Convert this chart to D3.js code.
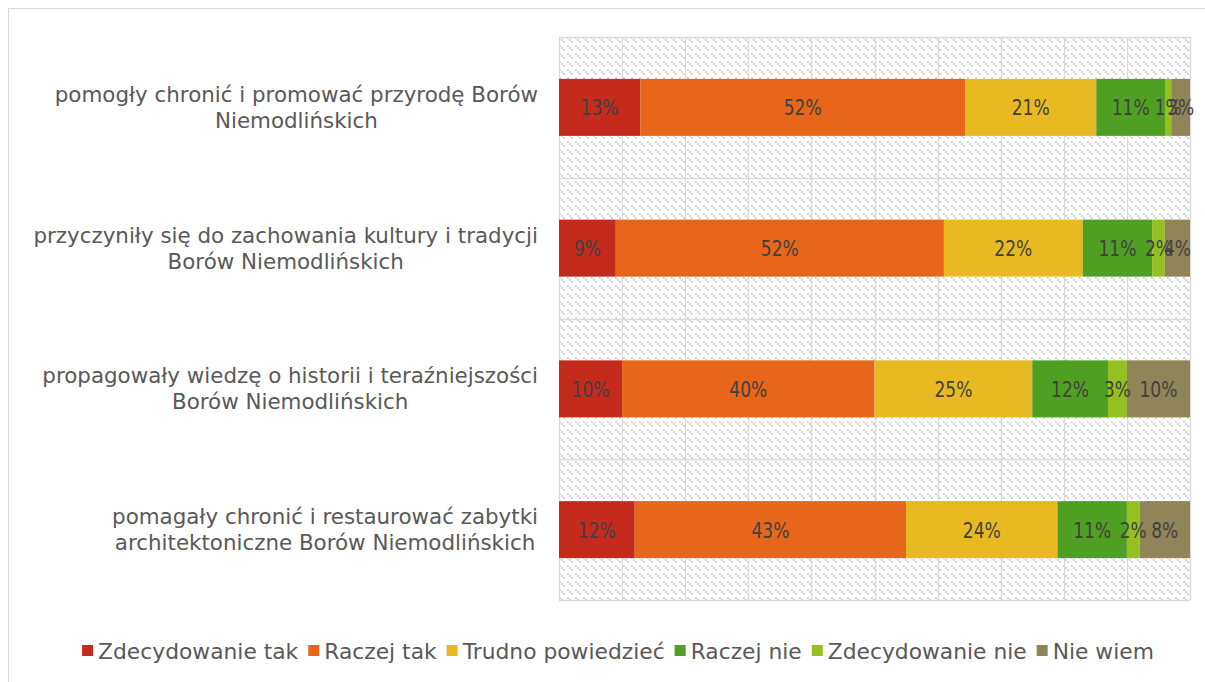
<!DOCTYPE html>
<html>
<head>
<meta charset="utf-8">
<script src="https://cdn.jsdelivr.net/npm/d3@7"></script>
<style>
  body { margin: 0; background: #fff; }
  svg { display: block; font-family: "DejaVu Sans", sans-serif; }
</style>
</head>
<body>
<svg width="1205" height="682"></svg>
<script>
const categories = [
  'pomogły chronić i promować przyrodę Borów|Niemodlińskich',
  'przyczyniły się do zachowania kultury i tradycji|Borów Niemodlińskich',
  'propagowały wiedzę o historii i teraźniejszości|Borów Niemodlińskich',
  'pomagały chronić i restaurować zabytki|architektoniczne Borów Niemodlińskich'
];
const seriesNames = ['Zdecydowanie tak', 'Raczej tak', 'Trudno powiedzieć', 'Raczej nie', 'Zdecydowanie nie', 'Nie wiem'];
const seriesColors = ['#c42b1c', '#e8661a', '#e8b920', '#4f9f22', '#94c11f', '#8f8558'];

const zdecydowanieTak = [13, 9, 10, 12];
const raczejTak = [52, 52, 40, 43];
const trudnoPowiedziec = [21, 22, 25, 24];
const raczejNie = [11, 11, 12, 11];
const zdecydowanieNie = [1, 2, 3, 2];
const nieWiem = [3, 4, 10, 8];

const seriesValues = [zdecydowanieTak, raczejTak, trudnoPowiedziec, raczejNie, zdecydowanieNie, nieWiem];
const tickValues = d3.range(0, 1.01, 0.1);

const rows = categories.map((c, i) => {
  const row = { category: c };
  seriesNames.forEach((s, j) => { row[s] = seriesValues[j][i]; });
  return row;
});

const plot = { left: 559, right: 1190, top: 37, bottom: 600 };

const svg = d3.select('svg');

// outer frame
svg.append('rect')
  .attr('x', 8.5).attr('y', 8.5)
  .attr('width', 1210).attr('height', 690)
  .attr('fill', 'none').attr('stroke', '#d9d9d9');

// hatched background pattern
const pattern = svg.append('defs').append('pattern')
  .attr('id', 'hatch')
  .attr('patternUnits', 'userSpaceOnUse')
  .attr('width', 8).attr('height', 8)
  .attr('x', plot.left).attr('y', plot.top);
pattern.append('rect').attr('width', 8).attr('height', 8).attr('fill', '#fff');
[[0, 0], [2, 2], [4, 4]].forEach(([px, py]) => {
  pattern.append('rect')
    .attr('x', px).attr('y', py)
    .attr('width', 2).attr('height', 2)
    .attr('fill', '#d4d4d4');
});

const xScale = d3.scaleLinear().domain([0, 1]).range([plot.left, plot.right]);
const yScale = d3.scaleBand()
  .domain(categories)
  .range([plot.top, plot.bottom])
  .paddingInner(0.595)
  .paddingOuter(0.2975);

svg.append('rect')
  .attr('x', plot.left).attr('y', plot.top)
  .attr('width', plot.right - plot.left).attr('height', plot.bottom - plot.top)
  .attr('fill', 'url(#hatch)');

// grid
const grid = svg.append('g').attr('stroke', '#d9d9d9').attr('stroke-width', 1.3);
grid.selectAll('.vline')
  .data(tickValues)
  .enter()
  .append('line')
  .attr('x1', d => Math.round(xScale(d)) + 0.5)
  .attr('x2', d => Math.round(xScale(d)) + 0.5)
  .attr('y1', plot.top).attr('y2', plot.bottom);

const step = yScale.step();
grid.selectAll('.hline')
  .data(d3.range(categories.length + 1))
  .enter()
  .append('line')
  .attr('x1', plot.left).attr('x2', plot.right)
  .attr('y1', i => Math.round(plot.top + i * step) + 0.5)
  .attr('y2', i => Math.round(plot.top + i * step) + 0.5);

// stacked bars
const stack = d3.stack().keys(seriesNames).offset(d3.stackOffsetExpand);
const stacked = stack(rows);

const layers = svg.selectAll('.layer')
  .data(stacked)
  .enter()
  .append('g')
  .classed('layer', true)
  .attr('fill', (d, i) => seriesColors[i]);

layers.selectAll('rect')
  .data(d => d)
  .enter()
  .append('rect')
  .attr('x', d => xScale(d[0]))
  .attr('width', d => xScale(d[1]) - xScale(d[0]))
  .attr('y', d => yScale(d.data.category))
  .attr('height', yScale.bandwidth());

const labels = svg.append('g')
  .attr('font-size', 22)
  .attr('fill', '#404040')
  .attr('text-anchor', 'middle');

stacked.forEach(layer => {
  labels.selectAll(null)
    .data(layer)
    .enter()
    .append('text')
    .attr('x', d => (xScale(d[0]) + xScale(d[1])) / 2)
    .attr('y', d => yScale(d.data.category) + yScale.bandwidth() / 2)
    .attr('dy', '0.36em')
    .attr('textLength', d => d.data[layer.key] >= 10 ? 38 : 27)
    .attr('lengthAdjust', 'spacingAndGlyphs')
    .text(d => d.data[layer.key] + '%');
});

// category labels
const catLabels = svg.append('g')
  .attr('font-size', 21.4)
  .attr('fill', '#595959')
  .attr('text-anchor', 'middle');

categories.forEach(c => {
  const lines = c.split('|');
  const cy = yScale(c) + yScale.bandwidth() / 2;
  const t = catLabels.append('text');
  lines.forEach((line, i) => {
    t.append('tspan')
      .attr('y', cy + (i - (lines.length - 1) / 2) * 26)
      .attr('dy', '0.35em')
      .text(line);
  });
  let w = 0;
  t.selectAll('tspan').each(function () { w = Math.max(w, this.getComputedTextLength()); });
  t.selectAll('tspan').attr('x', 538 - w / 2);
});

// legend
const legend = svg.append('g')
  .attr('font-size', 21.8)
  .attr('fill', '#595959');

let lx = 0;
const items = legend.selectAll('.item')
  .data(seriesNames)
  .enter()
  .append('g');

items.append('rect')
  .attr('width', 11).attr('height', 11)
  .attr('y', -6)
  .attr('fill', (d, i) => seriesColors[i]);

items.append('text')
  .attr('x', 16)
  .attr('dy', '0.35em')
  .text(d => d);

items.each(function () {
  const w = this.querySelector('text').getComputedTextLength();
  d3.select(this).attr('transform', `translate(${lx}, 651)`);
  lx += 16 + w + 10;
});
legend.attr('transform', `translate(${618 - (lx - 10) / 2}, 0)`);
</script>
</body>
</html>
